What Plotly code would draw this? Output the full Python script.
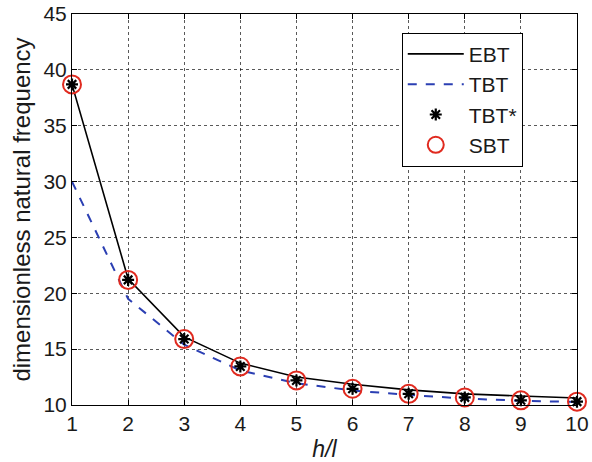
import plotly.graph_objects as go

h_over_l = [1, 2, 3, 4, 5, 6, 7, 8, 9, 10]
ebt = [38.7, 21.3, 16.1, 13.75, 12.5, 11.85, 11.35, 11.0, 10.8, 10.62]
tbt = [30.0, 19.5, 15.4, 13.1, 11.95, 11.3, 10.9, 10.58, 10.38, 10.27]
tbt_star = [38.7, 21.2, 15.9, 13.45, 12.2, 11.45, 11.0, 10.68, 10.42, 10.3]
sbt = [38.7, 21.2, 15.9, 13.45, 12.2, 11.45, 11.0, 10.68, 10.42, 10.3]

x_ticks = [1, 2, 3, 4, 5, 6, 7, 8, 9, 10]
y_ticks = [10, 15, 20, 25, 30, 35, 40, 45]

FONT = "Liberation Sans, Arial, sans-serif"

fig = go.Figure()
fig.add_trace(go.Scatter(x=h_over_l, y=ebt, mode="lines", name="EBT",
                         line=dict(color="black", width=1.6)))
fig.add_trace(go.Scatter(x=h_over_l, y=tbt, mode="lines", name="TBT",
                         line=dict(color="#2b3fb3", width=2, dash="dash")))
fig.add_trace(go.Scatter(x=h_over_l, y=tbt_star, mode="markers", name="TBT*",
                         cliponaxis=False,
                         marker=dict(symbol="asterisk-open", size=10, color="black",
                                     line=dict(color="black", width=2.2))))
fig.add_trace(go.Scatter(x=h_over_l, y=sbt, mode="markers", name="SBT",
                         cliponaxis=False,
                         marker=dict(symbol="circle-open", size=18, color="#e02a1f",
                                     line=dict(color="#e02a1f", width=2))))

axis_common = dict(
    showline=True, linecolor="black", linewidth=1, mirror="allticks",
    ticks="inside", ticklen=5, tickcolor="black", tickwidth=1,
    showgrid=True, gridcolor="rgba(0,0,0,0.65)", gridwidth=1, griddash="dot",
    zeroline=False, automargin=False,
    tickfont=dict(family=FONT, size=21, color="#1a1a1a"),
)

fig.update_xaxes(range=[1, 10], tickvals=x_ticks, ticktext=[str(v) for v in x_ticks],
                 title=dict(text="<i>h/l</i>", font=dict(family=FONT, size=23, color="#1a1a1a"),
                            standoff=6),
                 **axis_common)
fig.update_yaxes(range=[10, 45], tickvals=y_ticks, ticktext=[str(v) for v in y_ticks],
                 title=dict(text="dimensionless natural frequency",
                            font=dict(family=FONT, size=24, color="#1a1a1a"), standoff=6),
                 **axis_common)

fig.update_layout(
    width=592, height=462,
    margin=dict(l=72, r=15, t=14, b=57),
    plot_bgcolor="white", paper_bgcolor="white",
    font=dict(family=FONT, color="#1a1a1a"),
    legend=dict(x=0.653, y=0.952, xanchor="left", yanchor="top",
                bgcolor="white", bordercolor="black", borderwidth=1,
                font=dict(family=FONT, size=21, color="#1a1a1a"),
                tracegroupgap=0, itemwidth=56),
    showlegend=True,
)

fig.write_html("out.html")
